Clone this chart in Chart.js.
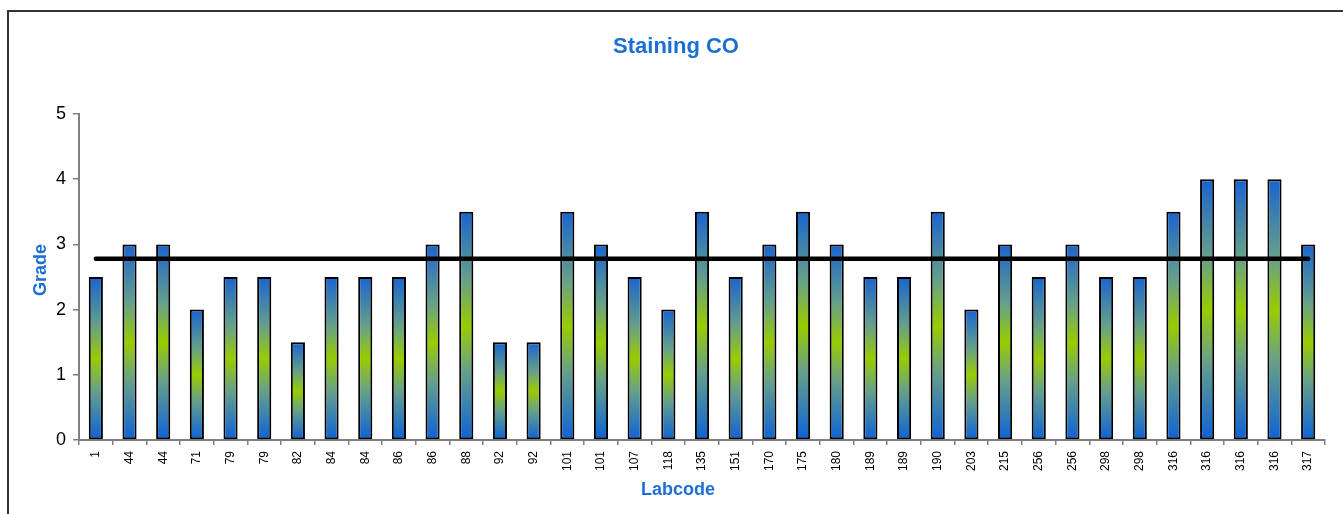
<!DOCTYPE html>
<html>
<head>
<meta charset="utf-8">
<script src="https://cdn.jsdelivr.net/npm/chart.js@4/dist/chart.umd.min.js"></script>
<style>
  html, body { margin: 0; padding: 0; background: #fff; overflow: hidden; }
  #wrap { position: relative; width: 1343px; height: 514px; }
  #frame { position: absolute; left: 7px; top: 10px; width: 1400px; height: 600px;
           border-left: 2px solid #333; border-top: 2px solid #333; box-sizing: border-box; }
  canvas { position: absolute; left: 0; top: 0; }
</style>
</head>
<body>
<div id="wrap">
  <div id="frame"></div>
  <canvas id="c" width="1343" height="514"></canvas>
</div>
<script>
const labcodes = ['1','44','44','71','79','79','82','84','84','86','86','88','92','92','101','101','107','118','135','151','170','175','180','189','189','190','203','215','256','256','298','298','316','316','316','316','317'];
const grades = [2.5,3,3,2,2.5,2.5,1.5,2.5,2.5,2.5,3,3.5,1.5,1.5,3.5,3,2.5,2,3.5,2.5,3,3.5,3,2.5,2.5,3.5,2,3,2.5,3,2.5,2.5,3.5,4,4,4,3];
const meanGrade = 2.78;
const meanLine = labcodes.map(() => meanGrade);
const yTicks = [0, 1, 2, 3, 4, 5];

const titleText = 'Staining CO';
const xTitle = 'Labcode';
const yTitle = 'Grade';
const blue = '#1a66d4';
const green = '#99cc00';
const titleBlue = '#1a6fd6';
const FONT = '"Liberation Sans", Arial, sans-serif';

function barGradient(ctx) {
  const chart = ctx.chart;
  if (!chart.chartArea || ctx.type !== 'data') return blue;
  const ys = chart.scales.y;
  const top = ys.getPixelForValue(ctx.raw);
  const bot = ys.getPixelForValue(0);
  if (!isFinite(top) || !isFinite(bot) || top === bot) return blue;
  const g = chart.ctx.createLinearGradient(0, top, 0, bot);
  g.addColorStop(0, '#1864d0');
  g.addColorStop(0.3, '#66a08a');
  g.addColorStop(0.5, green);
  g.addColorStop(0.7, '#66a08a');
  g.addColorStop(1, '#0c62d8');
  return g;
}

const axisTitles = {
  id: 'axisTitles',
  afterDraw(chart) {
    const c = chart.ctx;
    c.save();
    c.fillStyle = titleBlue;
    c.font = 'bold 18px ' + FONT;
    c.textAlign = 'center';
    c.textBaseline = 'middle';
    c.fillText(xTitle, 678, 490);
    c.translate(41, 270);
    c.rotate(-Math.PI / 2);
    c.fillText(yTitle, 0, 0);
    c.restore();
  }
};

new Chart(document.getElementById('c'), {
  type: 'bar',
  data: {
    labels: labcodes,
    datasets: [
      {
        type: 'line',
        data: meanLine,
        borderColor: '#000',
        borderWidth: 4.5,
        borderCapStyle: 'round',
        pointRadius: 0,
        fill: false,
        order: 0
      },
      {
        type: 'bar',
        data: grades,
        backgroundColor: barGradient,
        borderColor: '#000',
        borderWidth: 2,
        borderSkipped: false,
        categoryPercentage: 1,
        barPercentage: 0.42,
        order: 1
      }
    ]
  },
  options: {
    responsive: false,
    animation: false,
    events: [],
    layout: { padding: { left: 27, right: 18, top: 0, bottom: 0 } },
    plugins: {
      legend: { display: false },
      tooltip: { enabled: false },
      title: {
        display: true,
        text: titleText,
        color: titleBlue,
        font: { family: FONT, size: 22, weight: 'bold', lineHeight: 1.2 },
        padding: { top: 33.8, bottom: 53.8 }
      }
    },
    scales: {
      x: {
        offset: true,
        grid: { offset: true, drawOnChartArea: false, drawTicks: true, tickLength: 5, color: '#808080', lineWidth: 1.5 },
        border: { color: '#808080', width: 2 },
        ticks: {
          autoSkip: false, minRotation: 90, maxRotation: 90, padding: 6,
          color: '#000',
          font: { family: FONT, size: 12 }
        },
        afterFit(scale) { scale.height = 74; }
      },
      y: {
        min: 0, max: 5,
        afterBuildTicks(scale) { scale.ticks = yTicks.map(v => ({ value: v })); },
        grid: { drawOnChartArea: false, drawTicks: true, tickLength: 6, color: '#808080', lineWidth: 1.5 },
        border: { color: '#808080', width: 2 },
        ticks: {
          padding: 7, color: '#000',
          font: { family: FONT, size: 18 }
        },
        afterFit(scale) { scale.width = 52; }
      }
    }
  },
  plugins: [axisTitles]
});
</script>
</body>
</html>
